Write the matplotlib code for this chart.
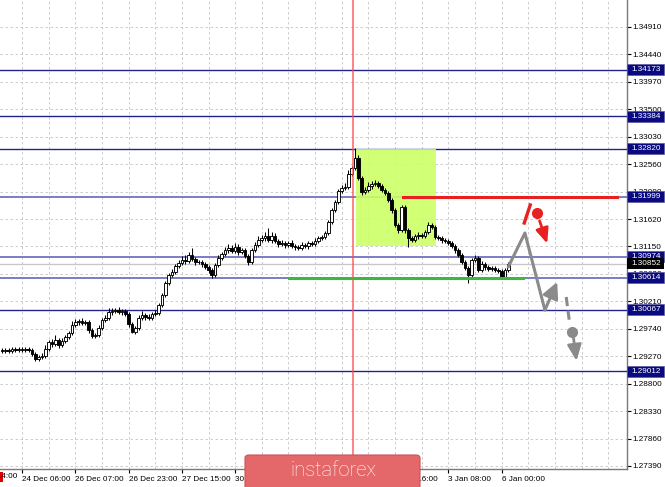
import matplotlib
matplotlib.use('Agg')
import matplotlib.pyplot as plt
from matplotlib.patches import Rectangle, FancyBboxPatch, FancyArrowPatch
import matplotlib.transforms as mtrans

plt.rcParams['font.family'] = ['Liberation Sans', 'DejaVu Sans']

# ---------------- data ----------------
first_open = 1.29377
closes = [
    1.29360, 1.29377, 1.29360, 1.29394, 1.29377, 1.29394, 1.29377, 1.29394, 1.29377, 1.29308,
    1.29223, 1.29257, 1.29274, 1.29394, 1.29514, 1.29480, 1.29548, 1.29463, 1.29531, 1.29600,
    1.29668, 1.29805, 1.29857, 1.29874, 1.29839, 1.29857, 1.29719, 1.29617, 1.29634, 1.29754,
    1.29891, 1.29925, 1.30028, 1.30045, 1.30062, 1.30028, 1.30045, 1.29994, 1.29822, 1.29685,
    1.29754, 1.29925, 1.29976, 1.29942, 1.29925, 1.29994, 1.30011, 1.30148, 1.30319, 1.30525,
    1.30662, 1.30713, 1.30816, 1.30867, 1.30919, 1.30901, 1.31004, 1.30936, 1.30884, 1.30884,
    1.30850, 1.30799, 1.30747, 1.30662, 1.30833, 1.30953, 1.31021, 1.31090, 1.31124, 1.31073,
    1.31141, 1.31056, 1.31090, 1.30987, 1.30884, 1.31090, 1.31176, 1.31261, 1.31295, 1.31330,
    1.31261, 1.31330, 1.31244, 1.31193, 1.31210, 1.31176, 1.31210, 1.31158, 1.31141, 1.31124,
    1.31176, 1.31158, 1.31210, 1.31193, 1.31244, 1.31295, 1.31313, 1.31381, 1.31570, 1.31775,
    1.31912, 1.32101, 1.32152, 1.32169, 1.32392, 1.32495, 1.32666, 1.32323, 1.32083, 1.32118,
    1.32186, 1.32220, 1.32238, 1.32186, 1.32118, 1.32066, 1.31946, 1.31775, 1.31518, 1.31432,
    1.31826, 1.31432, 1.31295, 1.31261, 1.31330, 1.31347, 1.31330, 1.31398, 1.31518, 1.31484,
    1.31313, 1.31295, 1.31261, 1.31244, 1.31210, 1.31158, 1.31090, 1.31004, 1.30884, 1.30782,
    1.30662, 1.30919, 1.30953, 1.30747, 1.30850, 1.30799, 1.30764, 1.30782, 1.30747, 1.30730,
    1.30627, 1.30747, 1.30852,
]
# wick lengths above / below the body, in 0.0001 price units
up_wick = [
    3, 4, 3, 4, 3, 4, 3, 4, 3, 4,
    3, 4, 5, 6, 4, 5, 8, 4, 5, 4,
    4, 6, 5, 4, 5, 4, 3, 3, 4, 5,
    4, 5, 6, 5, 4, 5, 4, 3, 3, 3,
    4, 5, 6, 4, 5, 4, 5, 4, 3, 3,
    4, 5, 4, 5, 6, 8, 5, 12, 4, 4,
    4, 3, 3, 3, 4, 5, 4, 5, 6, 5,
    6, 5, 4, 4, 3, 4, 5, 6, 5, 6,
    14, 6, 5, 4, 5, 4, 4, 5, 4, 3,
    5, 4, 4, 4, 5, 4, 4, 4, 3, 3,
    4, 4, 5, 6, 6, 4, 17, 5, 4, 5,
    6, 5, 5, 4, 3, 4, 4, 3, 3, 4,
    4, 3, 3, 4, 4, 5, 4, 4, 5, 4,
    3, 4, 3, 4, 3, 4, 3, 3, 3, 3,
    3, 4, 5, 4, 5, 4, 4, 4, 3, 4,
    3, 4, 3,
]
dn_wick = [
    3, 4, 3, 4, 3, 4, 3, 4, 3, 4,
    4, 4, 3, 3, 4, 5, 4, 6, 4, 4,
    4, 3, 4, 5, 4, 4, 5, 3, 4, 3,
    3, 4, 4, 5, 4, 4, 5, 4, 5, 2,
    4, 3, 4, 5, 4, 4, 3, 3, 3, 3,
    3, 4, 4, 3, 4, 5, 4, 4, 5, 4,
    5, 4, 5, 5, 4, 3, 4, 4, 5, 4,
    4, 5, 4, 4, 5, 4, 3, 3, 4, 5,
    4, 5, 4, 5, 4, 5, 4, 4, 5, 4,
    4, 4, 5, 4, 3, 3, 4, 3, 3, 3,
    3, 4, 4, 3, 3, 3, 3, 4, 5, 4,
    4, 5, 4, 4, 4, 4, 4, 5, 4, 5,
    4, 5, 15, 4, 4, 5, 4, 4, 3, 4,
    4, 4, 5, 4, 4, 4, 5, 4, 4, 4,
    14, 3, 4, 4, 4, 5, 4, 4, 4, 3,
    4, 3, 4,
]

x_tick_pos = [6, 22, 38, 54, 70, 86, 102, 118, 134, 150]
x_tick_labels = ["24 Dec 06:00", "26 Dec 07:00", "26 Dec 23:00", "27 Dec 15:00",
                 "30 Dec 07:00", "30 Dec 23:00", "31 Dec 15:00", "2 Jan 16:00",
                 "3 Jan 08:00", "6 Jan 00:00"]
clipped_label = "23 Dec 14:00"
clipped_label_pos = -10

y_ticks = [1.27390, 1.27860, 1.28330, 1.28800, 1.29270, 1.29740, 1.30210, 1.30680,
           1.31150, 1.31620, 1.32090, 1.32560, 1.33030, 1.33500, 1.33970, 1.34440, 1.34910]

level_prices = [1.34173, 1.33384, 1.32820, 1.31999, 1.30974, 1.30614, 1.30067, 1.29012]
level_light = [False, False, False, True, True, True, False, False]
bid_price = 1.30852

vline_x = 105.4
zone_x = [106.3, 130.3]
zone_y = [1.31160, 1.32820]
green_x = [86.2, 156.5]
green_y = 1.30610
red_x = [120.4, 184.7]
red_y = 1.31999

gray_path_x = [152.0, 157.0, 163.0]
gray_path_y = [1.30800, 1.31381, 1.30062]
gray_arrow_end = (166.7, 1.30542)
gray_dash_x = [169.4, 170.3]
gray_dash_y = [1.30285, 1.29891]
gray_dot = (171.2, 1.29685)
gray_arrow2 = [(171.6, 1.29580), (172.5, 1.29190)]
red_dash_x = [156.8, 158.6]
red_dash_y = [1.31552, 1.31861]
red_dot = (160.7, 1.31724)
red_arrow = [(161.4, 1.31590), (163.7, 1.31200)]

# ---------------- figure ----------------
W, H = 665, 487
FS = 5.9
fig = plt.figure(figsize=(W / 100, H / 100), dpi=100)
ax = fig.add_axes([0, 18 / H, 626.5 / W, 469 / H])
ax.set_xlim(-0.6, 187.5)
ax.set_ylim(1.27338, 1.35372)

grid_kw = dict(color='#c4c4c4', lw=0.6, ls=(0, (3, 3)), zorder=1)
for gx in range(-2, 188, 8):
    ax.axvline(gx, **grid_kw)
for gy in y_ticks:
    ax.axhline(gy, **grid_kw)

# zone
ax.add_patch(Rectangle((zone_x[0], zone_y[0]), zone_x[1] - zone_x[0], zone_y[1] - zone_y[0],
                       facecolor='#ccff66', edgecolor='none', alpha=0.9, zorder=3.5))

# level lines
for p, light in zip(level_prices, level_light):
    if light:
        ax.axhline(p, color='#7c7cc6', lw=1.4, zorder=3)
    else:
        ax.axhline(p, color='#23238f', lw=1.0, zorder=3)
ax.axhline(bid_price, color='#c8c8c8', lw=1.0, zorder=3)

# candles
opens = [first_open] + closes[:-1]
for i, (o, c) in enumerate(zip(opens, closes)):
    hi = max(o, c) + up_wick[i] * 1e-4
    lo = min(o, c) - dn_wick[i] * 1e-4
    ax.plot([i, i], [lo, hi], color='black', lw=0.75, zorder=4, solid_capstyle='butt')
    bull = c >= o
    ax.add_patch(Rectangle((i - 0.4, min(o, c)), 0.8, max(abs(c - o), 0.00005),
                           facecolor='white' if bull else 'black', edgecolor='black',
                           lw=0.65, zorder=4.5))

# vertical red line
ax.axvline(vline_x, color='#ff4a4a', lw=1.2, alpha=0.8, zorder=5)

# green / red horizontal segments
ax.plot(green_x, [green_y, green_y], color='#3cb83c', lw=2.2, zorder=5)
ax.plot(red_x, [red_y, red_y], color='#e82020', lw=2.2, zorder=5)

# gray scenario path
gray = '#8a8a8a'
ax.plot(gray_path_x, gray_path_y, color=gray, lw=2.2, zorder=6, solid_capstyle='round')
ax.add_patch(FancyArrowPatch((gray_path_x[-1], gray_path_y[-1]), gray_arrow_end,
                             arrowstyle='-|>,head_length=0.8,head_width=0.4', mutation_scale=12,
                             color=gray, lw=2.2, shrinkA=0, shrinkB=0, zorder=6))
ax.plot(gray_dash_x, gray_dash_y, color=gray, lw=2.2, ls=(0, (3, 1.5)), zorder=6)
ax.plot([gray_dot[0]], [gray_dot[1]], 'o', color=gray, ms=7, zorder=6)
ax.add_patch(FancyArrowPatch(gray_arrow2[0], gray_arrow2[1],
                             arrowstyle='-|>,head_length=0.8,head_width=0.35', mutation_scale=12,
                             color=gray, lw=2.0, shrinkA=0, shrinkB=0, zorder=6))

# red scenario
red = '#e82020'
ax.plot(red_dash_x, red_dash_y, color=red, lw=2.4, zorder=6)
ax.plot([red_dot[0]], [red_dot[1]], 'o', color=red, ms=7, zorder=6)
ax.add_patch(FancyArrowPatch(red_arrow[0], red_arrow[1],
                             arrowstyle='-|>,head_length=0.75,head_width=0.32', mutation_scale=12,
                             color=red, lw=2.0, shrinkA=0, shrinkB=0, zorder=6))

# axes styling
for s in ['left', 'top']:
    ax.spines[s].set_visible(False)
for s in ['right', 'bottom']:
    ax.spines[s].set_color('#7a7a7a')
    ax.spines[s].set_linewidth(1.0)
ax.yaxis.tick_right()
ax.set_yticks(y_ticks)
ax.set_yticklabels([f"{v:.5f}" for v in y_ticks])
ax.set_xticks(x_tick_pos)
ax.set_xticklabels(x_tick_labels)
ax.tick_params(axis='y', length=3, width=0.8, pad=1.5, labelsize=FS, colors='black')
ax.tick_params(axis='x', length=3, width=0.8, pad=1.8, labelsize=FS, colors='black')
for lbl in ax.get_xticklabels():
    lbl.set_ha('left')

# clipped first date label and position marker
fig.text((2 + 3.33 * clipped_label_pos) / W, (H - 477) / H, clipped_label,
         fontsize=FS, ha='left', va='center', color='black')
fig.patches.append(Rectangle((0, (H - 482) / H), 2.7 / W, 10 / H, transform=fig.transFigure,
                             facecolor='#e00000', edgecolor='none'))

# price label boxes on the right axis
blend = mtrans.blended_transform_factory(ax.transAxes, ax.transData)
box_h = 11 / 469 * (1.35372 - 1.27338)
box_w = 37 / 626.5
for p in level_prices + [bid_price]:
    fc = '#000000' if p == bid_price else '#0a0a80'
    ax.add_patch(Rectangle((1.0015, p - box_h / 2), box_w, box_h, transform=blend,
                           facecolor=fc, edgecolor='#5a5aa0' if p != bid_price else 'none',
                           lw=0.5, clip_on=False, zorder=20))
    ax.text(1.0075, p, f"{p:.5f}", transform=blend, fontsize=FS, color='white',
            ha='left', va='center', clip_on=False, zorder=21)

# watermark
fig.patches.append(FancyBboxPatch((245 / W, -0.01), 175 / W, (487 - 455) / H + 0.01,
                                  boxstyle='round,pad=0,rounding_size=0.006',
                                  transform=fig.transFigure, facecolor='#e4676a',
                                  edgecolor='#c95558', lw=0.8))
fig.text(333 / W, (H - 470) / H, "instaforex", fontsize=14.5, color='white',
         family=['Roboto', 'DejaVu Sans'], fontweight='light', ha='center', va='center')

fig.savefig('out.png', dpi=100)
